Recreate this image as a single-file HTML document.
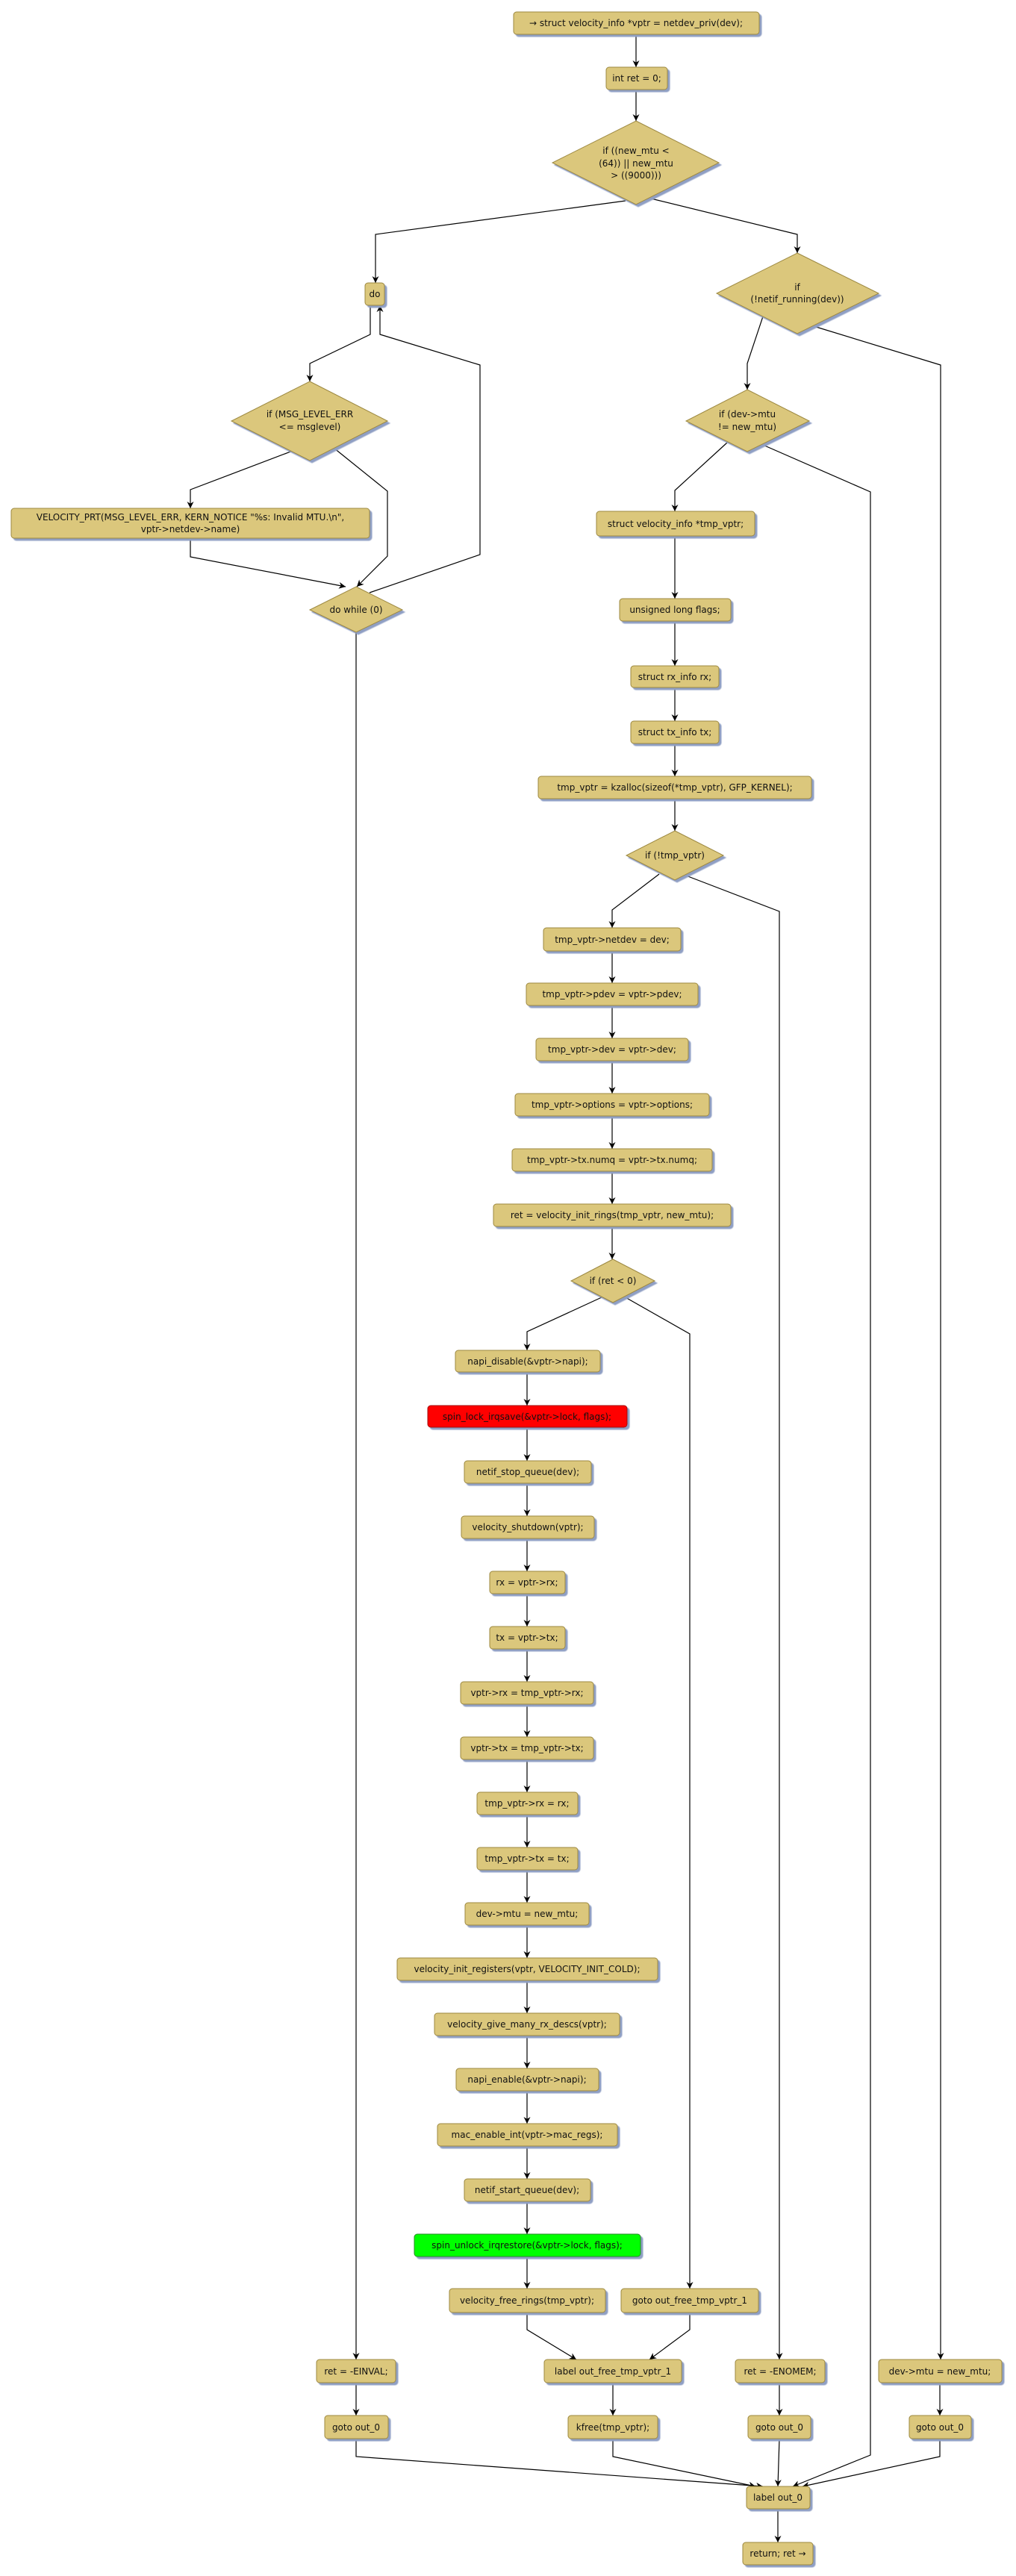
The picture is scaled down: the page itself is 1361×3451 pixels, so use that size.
<!DOCTYPE html>
<html><head><meta charset="utf-8">
<style>
html,body{margin:0;padding:0;background:#fff;}
svg{display:block;}
text{font-family:"DejaVu Sans","Liberation Sans",sans-serif;font-size:12px;fill:#111;text-anchor:middle;}
.b{fill:#dbc77c;stroke:#9c8840;stroke-width:1;}
.l{fill:none;stroke:#000;stroke-width:1.2;}
</style></head><body>
<svg width="1361" height="3451" viewBox="0 0 1361 3451" xmlns="http://www.w3.org/2000/svg">
<defs>
<filter id="sh" x="-10%" y="-10%" width="130%" height="140%"><feDropShadow dx="3" dy="3" stdDeviation="0.6" flood-color="#8f9fc4" flood-opacity="1"/></filter>
<marker id="a" viewBox="0 0 10 10" refX="10" refY="5" markerWidth="9" markerHeight="9" markerUnits="userSpaceOnUse" orient="auto"><path d="M0,0 L10,5 L0,10 L3,5 z" fill="#000"/></marker>
</defs>

<!-- connectors -->
<g class="l" marker-end="url(#a)">
<path d="M852,46 V90"/>
<path d="M852,120 V162"/>
<path d="M838,269 L503,314 V379"/>
<path d="M872,266 L1068,314 V339"/>
<path d="M496,409 V448 L415,487 V511"/>
<path d="M495,794 L643,743 V489 L509,448 V409"/>
<path d="M392,604 L255,656 V681"/>
<path d="M255,721 V746 L463,786"/>
<path d="M447,600 L519,658 V745 L478,786"/>
<path d="M477,847 V3161"/>
<path d="M1022,424 L1001,487 V522"/>
<path d="M1090,437 L1260,489 V3161"/>
<path d="M974,593 L904,657 V685"/>
<path d="M1022,596 L1166,659 V3289 L1062,3331"/>
<path d="M904,718 V802"/>
<path d="M904,832 V892"/>
<path d="M904,921 V966"/>
<path d="M904,996 V1040"/>
<path d="M904,1070 V1113"/>
<path d="M883,1171 L820,1219 V1243"/>
<path d="M919,1173 L1044,1221 V3161"/>
<path d="M820,1274 V1317"/>
<path d="M820,1347 V1391"/>
<path d="M820,1421 V1465"/>
<path d="M820,1495 V1539"/>
<path d="M820,1569 V1613"/>
<path d="M820,1643 V1687"/>
<path d="M806,1738 L706,1784 V1809"/>
<path d="M836,1737 L924,1787 V3066"/>
<path d="M706,1838 V1883"/>
<path d="M706,1912 V1957"/>
<path d="M706,1987 V2031"/>
<path d="M706,2061 V2105"/>
<path d="M706,2135 V2179"/>
<path d="M706,2209 V2253"/>
<path d="M706,2283 V2327"/>
<path d="M706,2357 V2401"/>
<path d="M706,2431 V2475"/>
<path d="M706,2505 V2549"/>
<path d="M706,2579 V2623"/>
<path d="M706,2653 V2697"/>
<path d="M706,2727 V2771"/>
<path d="M706,2801 V2845"/>
<path d="M706,2875 V2919"/>
<path d="M706,2949 V2993"/>
<path d="M706,3023 V3066"/>
<path d="M706,3098 V3121 L772,3161"/>
<path d="M924,3098 V3121 L870,3161"/>
<path d="M821,3192 V3236"/>
<path d="M477,3192 V3236"/>
<path d="M1044,3192 V3236"/>
<path d="M1259,3192 V3236"/>
<path d="M477,3267 V3291 L1022,3331"/>
<path d="M821,3267 V3291 L1012,3331"/>
<path d="M1044,3267 L1042,3331"/>
<path d="M1259,3267 V3291 L1075,3331"/>
<path d="M1042,3361 V3406"/>
</g>

<!-- nodes -->
<g filter="url(#sh)">
<rect class="b" x="688" y="16" width="329" height="30" rx="4"/>
<rect class="b" x="812" y="90" width="82" height="30" rx="4"/>
<polygon class="b" points="852,162 963,218 852,274 740,218"/>
<rect class="b" x="489" y="379" width="26" height="30" rx="4"/>
<polygon class="b" points="1068,339 1177,393 1068,447 960,393"/>
<polygon class="b" points="415,511 519,564 415,617 310,564"/>
<rect class="b" x="15" y="681" width="480" height="40" rx="4"/>
<polygon class="b" points="477,786 539,817 477,847 415,817"/>
<polygon class="b" points="1001,522 1084,564 1001,605 919,564"/>
<rect class="b" x="799" y="685" width="212" height="33" rx="4"/>
<rect class="b" x="830" y="802" width="149" height="30" rx="4"/>
<rect class="b" x="845" y="892" width="118" height="29" rx="4"/>
<rect class="b" x="845" y="966" width="118" height="30" rx="4"/>
<rect class="b" x="721" y="1040" width="366" height="30" rx="4"/>
<polygon class="b" points="904,1113 969,1146 904,1179 839,1146"/>
<rect class="b" x="728" y="1243" width="184" height="31" rx="4"/>
<rect class="b" x="705" y="1317" width="230" height="30" rx="4"/>
<rect class="b" x="718" y="1391" width="204" height="30" rx="4"/>
<rect class="b" x="690" y="1465" width="260" height="30" rx="4"/>
<rect class="b" x="686" y="1539" width="268" height="30" rx="4"/>
<rect class="b" x="661" y="1613" width="318" height="30" rx="4"/>
<polygon class="b" points="821,1687 877,1716 821,1745 765,1716"/>
<rect class="b" x="610" y="1809" width="194" height="29" rx="4"/>
<rect x="573" y="1883" width="267" height="29" rx="4" fill="#ff0000" stroke="#a01010"/>
<rect class="b" x="622" y="1957" width="170" height="30" rx="4"/>
<rect class="b" x="618" y="2031" width="178" height="30" rx="4"/>
<rect class="b" x="656" y="2105" width="101" height="30" rx="4"/>
<rect class="b" x="656" y="2179" width="101" height="30" rx="4"/>
<rect class="b" x="617" y="2253" width="178" height="30" rx="4"/>
<rect class="b" x="617" y="2327" width="178" height="30" rx="4"/>
<rect class="b" x="639" y="2401" width="135" height="30" rx="4"/>
<rect class="b" x="639" y="2475" width="135" height="30" rx="4"/>
<rect class="b" x="623" y="2549" width="166" height="30" rx="4"/>
<rect class="b" x="532" y="2623" width="349" height="30" rx="4"/>
<rect class="b" x="582" y="2697" width="248" height="30" rx="4"/>
<rect class="b" x="611" y="2771" width="191" height="30" rx="4"/>
<rect class="b" x="586" y="2845" width="241" height="30" rx="4"/>
<rect class="b" x="622" y="2919" width="169" height="30" rx="4"/>
<rect x="555" y="2993" width="303" height="30" rx="4" fill="#00ff00" stroke="#2a8a2a"/>
<rect class="b" x="602" y="3066" width="209" height="32" rx="4"/>
<rect class="b" x="832" y="3066" width="184" height="32" rx="4"/>
<rect class="b" x="424" y="3161" width="106" height="31" rx="4"/>
<rect class="b" x="729" y="3161" width="184" height="31" rx="4"/>
<rect class="b" x="985" y="3161" width="120" height="31" rx="4"/>
<rect class="b" x="1177" y="3161" width="165" height="31" rx="4"/>
<rect class="b" x="435" y="3236" width="85" height="31" rx="4"/>
<rect class="b" x="761" y="3236" width="120" height="31" rx="4"/>
<rect class="b" x="1002" y="3236" width="84" height="31" rx="4"/>
<rect class="b" x="1218" y="3236" width="83" height="31" rx="4"/>
<rect class="b" x="1000" y="3331" width="85" height="30" rx="4"/>
<rect class="b" x="995" y="3406" width="94" height="30" rx="4"/>
</g>

<!-- labels -->
<text x="852" y="35">→ struct velocity_info *vptr = netdev_priv(dev);</text>
<text x="853" y="109">int ret = 0;</text>
<text x="852" y="206">if ((new_mtu &lt;</text>
<text x="852" y="223">(64)) || new_mtu</text>
<text x="852" y="239">&gt; ((9000)))</text>
<text x="502" y="398">do</text>
<text x="1068" y="389">if</text>
<text x="1068" y="405">(!netif_running(dev))</text>
<text x="415" y="559">if (MSG_LEVEL_ERR</text>
<text x="415" y="576">&lt;= msglevel)</text>
<text x="255" y="697">VELOCITY_PRT(MSG_LEVEL_ERR, KERN_NOTICE "%s: Invalid MTU.\n",</text>
<text x="255" y="713">vptr-&gt;netdev-&gt;name)</text>
<text x="477" y="821">do while (0)</text>
<text x="1001" y="559">if (dev-&gt;mtu</text>
<text x="1001" y="576">!= new_mtu)</text>
<text x="905" y="706">struct velocity_info *tmp_vptr;</text>
<text x="904" y="821">unsigned long flags;</text>
<text x="904" y="911">struct rx_info rx;</text>
<text x="904" y="985">struct tx_info tx;</text>
<text x="904" y="1059">tmp_vptr = kzalloc(sizeof(*tmp_vptr), GFP_KERNEL);</text>
<text x="904" y="1150">if (!tmp_vptr)</text>
<text x="820" y="1263">tmp_vptr-&gt;netdev = dev;</text>
<text x="820" y="1336">tmp_vptr-&gt;pdev = vptr-&gt;pdev;</text>
<text x="820" y="1410">tmp_vptr-&gt;dev = vptr-&gt;dev;</text>
<text x="820" y="1484">tmp_vptr-&gt;options = vptr-&gt;options;</text>
<text x="820" y="1558">tmp_vptr-&gt;tx.numq = vptr-&gt;tx.numq;</text>
<text x="820" y="1632">ret = velocity_init_rings(tmp_vptr, new_mtu);</text>
<text x="821" y="1720">if (ret &lt; 0)</text>
<text x="707" y="1828">napi_disable(&amp;vptr-&gt;napi);</text>
<text x="706" y="1902">spin_lock_irqsave(&amp;vptr-&gt;lock, flags);</text>
<text x="707" y="1976">netif_stop_queue(dev);</text>
<text x="707" y="2050">velocity_shutdown(vptr);</text>
<text x="706" y="2124">rx = vptr-&gt;rx;</text>
<text x="706" y="2198">tx = vptr-&gt;tx;</text>
<text x="706" y="2272">vptr-&gt;rx = tmp_vptr-&gt;rx;</text>
<text x="706" y="2346">vptr-&gt;tx = tmp_vptr-&gt;tx;</text>
<text x="706" y="2420">tmp_vptr-&gt;rx = rx;</text>
<text x="706" y="2494">tmp_vptr-&gt;tx = tx;</text>
<text x="706" y="2568">dev-&gt;mtu = new_mtu;</text>
<text x="706" y="2642">velocity_init_registers(vptr, VELOCITY_INIT_COLD);</text>
<text x="706" y="2716">velocity_give_many_rx_descs(vptr);</text>
<text x="706" y="2790">napi_enable(&amp;vptr-&gt;napi);</text>
<text x="706" y="2864">mac_enable_int(vptr-&gt;mac_regs);</text>
<text x="706" y="2938">netif_start_queue(dev);</text>
<text x="706" y="3012">spin_unlock_irqrestore(&amp;vptr-&gt;lock, flags);</text>
<text x="706" y="3086">velocity_free_rings(tmp_vptr);</text>
<text x="924" y="3086">goto out_free_tmp_vptr_1</text>
<text x="477" y="3181">ret = -EINVAL;</text>
<text x="821" y="3181">label out_free_tmp_vptr_1</text>
<text x="1045" y="3181">ret = -ENOMEM;</text>
<text x="1259" y="3181">dev-&gt;mtu = new_mtu;</text>
<text x="477" y="3256">goto out_0</text>
<text x="821" y="3256">kfree(tmp_vptr);</text>
<text x="1044" y="3256">goto out_0</text>
<text x="1259" y="3256">goto out_0</text>
<text x="1042" y="3350">label out_0</text>
<text x="1042" y="3425">return; ret →</text>
</svg>
</body></html>
